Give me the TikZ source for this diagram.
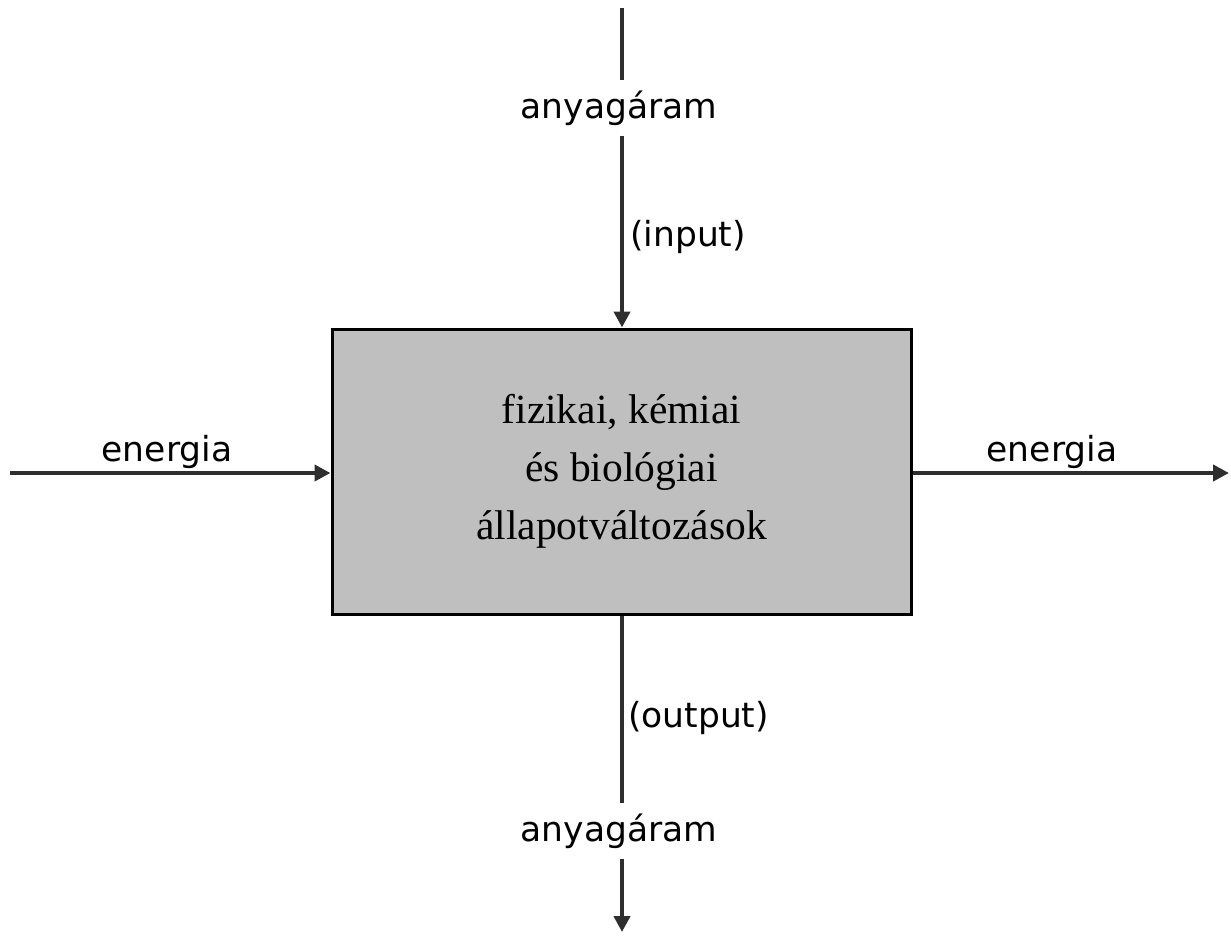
\documentclass[tikz,border=0pt]{standalone}
\usepackage{fontspec}
\setmainfont{Liberation Serif}
\newfontfamily\labfont{DejaVu Sans}
\usetikzlibrary{arrows.meta}
\begin{document}
\begin{tikzpicture}[x=1pt,y=-1pt,
  flow/.style={line width=4pt, draw=black!82, line cap=butt},
  arr/.style={flow, -{Triangle[length=16pt,width=16pt]}},
  lab/.style={font=\labfont\fontsize{34.5}{40}\selectfont, inner sep=0pt},
  vlab/.style={lab, inner ysep=10pt},
  proc/.style={draw=black, line width=3pt, fill=black!25, minimum width=579pt, minimum height=285pt, inner sep=0pt, align=center,
    font=\fontsize{41.5}{58}\selectfont}]
\useasboundingbox (0,0) rectangle (1231,940);
\node[proc] (box) at (621.5,471.5) {fizikai, kémiai\\és biológiai\\állapotváltozások};
\coordinate (tin) at (622,8);
\coordinate (bout) at (622,932);
\coordinate (lin) at (10,473);
\coordinate (rout) at (1229,473);
\node[vlab] (ain) at (619,108) {anyagáram};
\node[vlab] (aout) at (619,831) {anyagáram};
\node[lab, anchor=west] (inp) at (630,237) {(input)};
\node[lab, anchor=west] (outp) at (628,718) {(output)};
\node[lab] (el) at (167,452) {energia};
\node[lab] (er) at (1052,452) {energia};
\draw[flow] (tin) -- (ain.north -| tin);
\draw[arr] (ain.south -| tin) -- (box.north -| tin);
\draw[flow] (box.south -| tin) -- (aout.north -| tin);
\draw[arr] (aout.south -| tin) -- (bout);
\draw[arr] (lin) -- (box.west |- lin);
\draw[arr] (box.east |- rout) -- (rout);
\end{tikzpicture}
\end{document}
